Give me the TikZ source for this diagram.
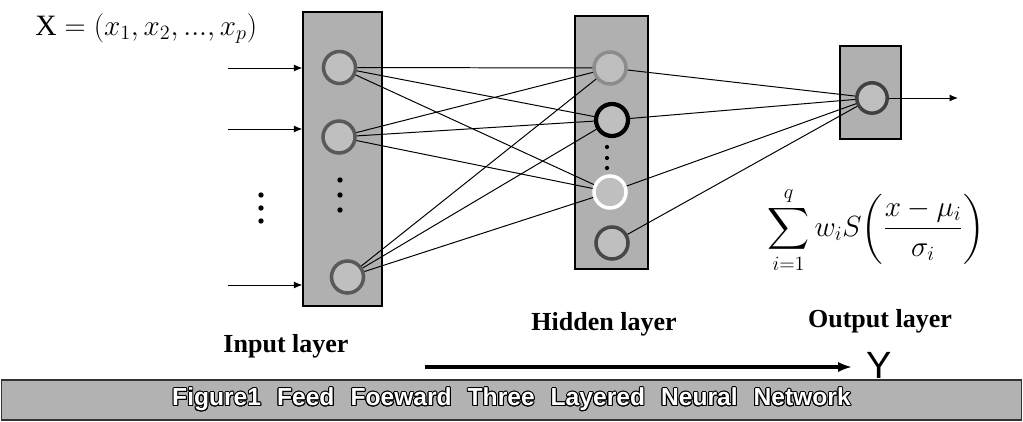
\documentclass[tikz,border=0pt]{standalone}
\usepackage{amsmath}
\usepackage{fontspec}
\setmainfont{Liberation Serif}
\newfontfamily\capfont{Liberation Sans}
\usepackage[copies]{contour}
\contourlength{0.7pt}
\usetikzlibrary{arrows.meta}

\newcommand{\capgap}{\hspace{0.65em}}

\tikzset{
  layerbox/.style={draw=black, line width=1pt, fill=black!31},
  neuron/.style={circle, draw=black!65, line width=2.5pt, fill=black!25, minimum size=0.8cm, inner sep=0pt},
  link/.style={line width=0.7pt},
  inarrow/.style={-{Latex[length=6pt,width=5pt]}, line width=0.7pt},
  layerlabel/.style={font=\fontsize{18.5}{20}\selectfont\bfseries, anchor=base, inner sep=0pt},
  capbar/.style={draw=black!80, line width=0.8pt, fill=black!30, text=white, font=\capfont\bfseries\fontsize{17.5}{19}\selectfont}
}

\begin{document}
\begin{tikzpicture}[x=0.025cm, y=-0.025cm]
  \useasboundingbox (0,0) rectangle (1023,421);

  % Layer boxes
  \node[layerbox, minimum width=1.975cm, minimum height=7.35cm] (inbox) at (342.5,159) {};
  \node[layerbox, minimum width=1.825cm, minimum height=6.325cm] (hidbox) at (611.5,142.5) {};
  \node[layerbox, minimum width=1.525cm, minimum height=2.325cm] (outbox) at (870.5,92.5) {};

  % Neurons
  \node[neuron] (i1) at (339.5,67.5) {};
  \node[neuron] (i2) at (339,137) {};
  \node[neuron] (i3) at (347.5,277) {};
  \node[neuron, draw=black!45] (h1) at (610,68) {};
  \node[neuron, draw=black, line width=3pt] (h2) at (612,120) {};
  \node[neuron, draw=white] (h3) at (610,192) {};
  \node[neuron, draw=black!72] (h4) at (612,243) {};
  \node[neuron, draw=black!75, minimum size=0.76cm] (o1) at (872,98) {};

  % Dots for the omitted units
  \foreach \y in {195,208,221} \fill (261,\y) circle (1.9pt);
  \foreach \y in {180,195,210} \fill (340,\y) circle (1.9pt);
  \foreach \y in {147,158,168} \fill (607,\y) circle (1.5pt);

  % Inputs
  \foreach \n/\y in {1/68, 2/129, 3/285} {
    \coordinate (x\n) at (228,\y);
    \draw[inarrow] (x\n) -- (x\n -| inbox.west);
  }

  % Input to hidden
  \foreach \i in {1,2,3}
    \foreach \h in {1,2,3}
      \draw[link] (i\i) -- (h\h);

  % Hidden to output
  \foreach \h in {1,...,4}
    \draw[link] (h\h) -- (o1);

  % Output
  \coordinate (yout) at (958,98);
  \draw[inarrow] (o1) -- (yout);

  % Labels
  \node[anchor=base west, inner sep=0pt, font=\fontsize{21}{24}\selectfont] (xvec) at (35,35) {$\mathrm{X}=(x_1,x_2,...,x_p)$};
  \node[font=\fontsize{20.5}{24}\selectfont] (sigma) at (876,230) {$\displaystyle\sum_{i=1}^{q} w_i S\!\left(\frac{x-\mu_i}{\sigma_i}\right)$};
  \node[layerlabel] (inlab) at (286,352) {Input layer};
  \node[layerlabel] (hidlab) at (604,330) {Hidden layer};
  \node[layerlabel] (outlab) at (880,327) {Output layer};

  % Direction arrow
  \node[anchor=base west, inner sep=0pt, font=\capfont\fontsize{27}{28}\selectfont] (ylab) at (866,378) {Y};
  \coordinate (ystart) at (425,367);
  \draw[-{Latex[length=0.35cm,width=0.26cm]}, line width=2.8pt] (ystart) -- ([xshift=-0.35cm]ystart -| ylab.west);

  % Caption bar
  \node[capbar, minimum width=25.5cm, minimum height=1cm] (capt) at (511.5,400) {\contour{black}{Figure1\capgap Feed\capgap Foeward\capgap Three\capgap Layered\capgap Neural\capgap Network}};
\end{tikzpicture}
\end{document}
